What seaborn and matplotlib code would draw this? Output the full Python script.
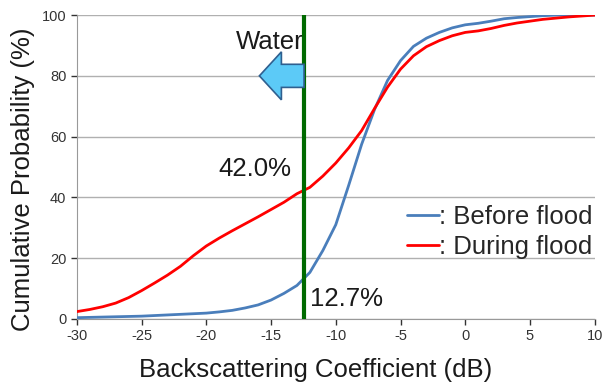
import numpy as np
import pandas as pd
import seaborn as sns
import matplotlib.pyplot as plt
from matplotlib.patches import FancyArrow

# Valores (dB vs probabilidade acumulada %)
backscatter_db = [-30, -29, -28, -27, -26, -25, -24, -23, -22, -21, -20, -19, -18, -17,
                  -16, -15, -14, -13, -12, -11, -10, -9, -8, -7, -6, -5, -4, -3,
                  -2, -1, 0, 1, 2, 3, 4, 5, 6, 7, 8, 9, 10]
before_flood = [0.4, 0.5, 0.6, 0.7, 0.8, 0.9, 1.1, 1.3, 1.5, 1.7, 1.9, 2.3, 2.8, 3.6,
                4.6, 6.2, 8.4, 11.0, 15.3, 22.5, 31.0, 44.0, 57.5, 69.0, 78.5, 85.0, 89.7,
                92.4, 94.3, 95.8, 96.8, 97.3, 98.0, 98.8, 99.2, 99.5, 99.8, 100.0, 100.0,
                100.0, 100.0]
during_flood = [2.4, 3.1, 4.0, 5.2, 7.0, 9.3, 11.8, 14.4, 17.3, 20.8, 24.0, 26.6, 29.0,
                31.3, 33.6, 36.0, 38.4, 41.2, 43.3, 47.0, 51.3, 56.3, 62.0, 69.3, 76.3,
                82.2, 86.6, 89.6, 91.6, 93.2, 94.3, 94.8, 95.6, 96.6, 97.4, 98.0, 98.6,
                99.0, 99.4, 99.7, 100.0]
series_names = [": Before flood", ": During flood"]
series_colors = ["#4a7ebb", "#ff0000"]

threshold_db = -12.45
pct_during = "42.0%"
pct_before = "12.7%"

df = pd.DataFrame({
    "x": backscatter_db * 2,
    "y": before_flood + during_flood,
    "serie": [series_names[0]] * len(backscatter_db) + [series_names[1]] * len(backscatter_db),
})

sns.set_style("white")
plt.rcParams['font.family'] = ['Liberation Sans', 'DejaVu Sans']
plt.rcParams['axes.unicode_minus'] = False

fig = plt.figure(figsize=(6.05, 3.87), dpi=100)
ax = fig.add_axes([0.127, 0.176, 0.856, 0.785])

sns.lineplot(data=df, x="x", y="y", hue="serie", palette=series_colors,
             linewidth=2.0, ax=ax, zorder=3)

# Linha do limiar
ax.axvline(threshold_db, color="#006a00", linewidth=3.0, zorder=4)

# Seta "Water"
ax.add_patch(FancyArrow(threshold_db, 80, -3.45, 0, width=7.6, head_width=15.8,
                        head_length=1.7, length_includes_head=True,
                        facecolor="#5ccaf7", edgecolor="#2f5f8f", linewidth=1.2, zorder=5))
ax.text(threshold_db - 0.05, 91.0, "Water", fontsize=18.5, ha="right", va="center", color="#1a1a1a")
ax.text(threshold_db - 1.0, 49.3, pct_during, fontsize=18.5, ha="right", va="center", color="#1a1a1a")
ax.text(threshold_db + 0.45, 6.6, pct_before, fontsize=18.5, ha="left", va="center", color="#1a1a1a")

ax.set_xlim(-30, 10)
ax.set_ylim(0, 100)
ax.set_xticks(range(-30, 11, 5))
ax.set_yticks(range(0, 101, 20))
ax.grid(axis="y", color="#b0b0b0", linewidth=1.0)
ax.grid(axis="x", visible=False)
ax.tick_params(axis="both", labelsize=10.5, colors="#333333", direction="out",
               length=4, width=1, left=True, bottom=True)
for s in ["top", "right"]:
    ax.spines[s].set_visible(False)
for s in ["left", "bottom"]:
    ax.spines[s].set_color("#999999")

ax.set_xlabel("Backscattering Coefficient (dB)", fontsize=18.5, color="#1a1a1a")
ax.set_ylabel("Cumulative Probability (%)", fontsize=18.5, color="#1a1a1a")
ax.xaxis.set_label_coords(0.461, -0.13)
ax.yaxis.set_label_coords(-0.08, 0.46)

ax.legend(loc="upper left", bbox_to_anchor=(0.637, 0.375), frameon=False, fontsize=18.5,
          handlelength=1.25, handletextpad=0.0, labelspacing=0.22, borderaxespad=0,
          borderpad=0)

plt.savefig("out.png", dpi=100)
